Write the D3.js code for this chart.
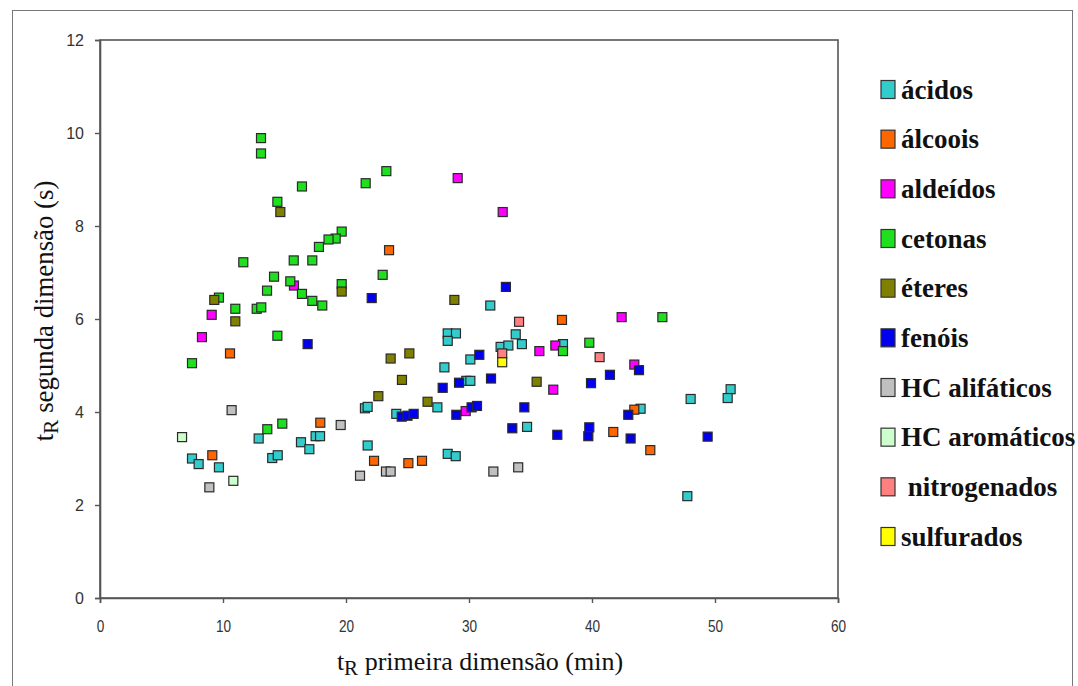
<!DOCTYPE html>
<html>
<head>
<meta charset="utf-8">
<script src="https://cdn.jsdelivr.net/npm/d3@7/dist/d3.min.js"></script>
<style>
  html, body { margin: 0; padding: 0; background: #fff; }
  svg { display: block; }
</style>
</head>
<body>
<svg id="chart" width="1078" height="686"></svg>
<script>
// Compound classes and their marker colours
const categories = ["ácidos", "álcoois", "aldeídos", "cetonas", "éteres", "fenóis",
  "HC alifáticos", "HC aromáticos", "nitrogenados", "sulfurados"];
const legendLabels = ["ácidos", "álcoois", "aldeídos", "cetonas", "éteres", "fenóis",
  "HC alifáticos", "HC aromáticos", " nitrogenados", "sulfurados"];
const colors = ["#33cccc", "#ff6600", "#ff00ff", "#1ee01e", "#808000", "#0000ee",
  "#c0c0c0", "#ccffcc", "#ff8080", "#ffff00"];

// Retention times: [first dimension (min), second dimension (s)]
const acidos = [[21.54,4.08],[21.76,4.11],[24.09,3.96],[12.9,3.43],[16.34,3.35],[17.02,3.20],
  [17.53,3.48],[17.89,3.48],[21.76,3.28],[7.48,3.0],[8.02,2.88],[9.67,2.81],[14.0,3.01],
  [14.45,3.07],[31.73,6.29],[28.27,5.69],[28.94,5.69],[28.27,5.53],[33.8,5.67],[32.57,5.40],
  [33.2,5.43],[34.3,5.46],[37.64,5.46],[30.11,5.13],[28.0,4.96],[29.78,4.67],[30.11,4.67],
  [27.43,4.10],[48.02,4.28],[34.72,3.68],[43.95,4.07],[28.27,3.10],[28.92,3.05],[47.75,2.19],
  [51.27,4.49],[51.03,4.30]];
const alcoois = [[23.5,7.48],[10.57,5.26],[17.91,3.77],[22.28,2.95],[25.07,2.90],[26.18,2.95],
  [9.13,3.07],[37.56,5.98],[41.73,3.57],[44.74,3.18],[43.44,4.05]];
const aldeidos = [[15.77,6.72],[9.08,6.09],[8.29,5.61],[29.08,9.03],[32.74,8.30],[42.41,6.04],
  [35.72,5.31],[37.02,5.43],[43.44,5.02],[36.85,4.48],[29.73,4.02]];
const cetonas = [[13.09,9.89],[13.09,9.56],[23.28,9.18],[21.6,8.92],[16.42,8.85],[14.42,8.52],
  [19.65,7.88],[19.16,7.73],[18.58,7.71],[17.8,7.55],[11.65,7.22],[15.75,7.26],[17.26,7.26],
  [22.98,6.95],[14.15,6.91],[15.47,6.81],[19.65,6.75],[13.58,6.61],[16.42,6.54],[17.26,6.39],
  [18.07,6.29],[9.67,6.46],[11.0,6.22],[12.74,6.22],[13.11,6.25],[14.42,5.64],[7.48,5.05],
  [13.6,3.63],[14.82,3.75],[45.72,6.04],[39.78,5.49],[37.64,5.31]];
const eteres = [[14.66,8.30],[19.65,6.59],[9.29,6.41],[11.0,5.95],[23.63,5.15],[25.15,5.26],
  [24.55,4.69],[22.63,4.34],[28.81,6.41],[35.5,4.65],[26.63,4.22]];
const fenois = [[22.09,6.45],[16.88,5.46],[24.53,3.90],[25.0,3.92],[25.5,3.96],[33.0,6.69],
  [43.82,4.90],[30.84,5.23],[31.79,4.72],[29.19,4.63],[27.86,4.52],[39.92,4.62],[41.46,4.80],
  [28.97,3.94],[30.21,4.10],[30.65,4.13],[34.5,4.10],[33.52,3.65],[37.18,3.51],[39.78,3.67],
  [39.7,3.48],[43.14,3.43],[42.95,3.94],[49.4,3.47]];
const hcAlifaticos = [[10.7,4.04],[19.57,3.72],[21.14,2.63],[23.25,2.72],[23.63,2.72],
  [8.89,2.38],[31.98,2.72],[34.0,2.81]];
const hcAromaticos = [[6.67,3.46],[10.84,2.52]];
const nitrogenados = [[34.07,5.94],[32.7,5.26],[40.62,5.18]];
const sulfurados = [[32.7,5.07]];

const seriesValues = [acidos, alcoois, aldeidos, cetonas, eteres, fenois,
  hcAlifaticos, hcAromaticos, nitrogenados, sulfurados];

const xTicks = [0, 10, 20, 30, 40, 50, 60];
const yTicks = [0, 2, 4, 6, 8, 10, 12];

const SERIF = '"Liberation Serif"';
const SANS = '"Liberation Sans"';

const svg = d3.select("#chart");

// Outer frame
svg.append("rect")
  .attr("x", 12.5).attr("y", 10.5).attr("width", 1060).attr("height", 690)
  .attr("fill", "none").attr("stroke", "#777").attr("stroke-width", 1);

const plot = { left: 100, right: 838, top: 40, bottom: 598 };
const x = d3.scaleLinear().domain([0, 60]).range([plot.left, plot.right]);
const y = d3.scaleLinear().domain([0, 12]).range([plot.bottom, plot.top]);

// Plot area border
svg.append("rect")
  .attr("x", plot.left).attr("y", plot.top)
  .attr("width", plot.right - plot.left).attr("height", plot.bottom - plot.top)
  .attr("fill", "#fff").attr("stroke", "#555").attr("stroke-width", 1.6);

const xAxis = svg.append("g")
  .attr("transform", `translate(0,${plot.bottom})`)
  .call(d3.axisBottom(x).tickValues(xTicks).tickSize(5).tickPadding(16).tickFormat(d3.format("d")));
const yAxis = svg.append("g")
  .attr("transform", `translate(${plot.left},0)`)
  .call(d3.axisLeft(y).tickValues(yTicks).tickSize(5).tickPadding(11).tickFormat(d3.format("d")));

[xAxis, yAxis].forEach(g => {
  g.attr("font-family", SANS).attr("font-size", 16);
  g.select(".domain").attr("stroke", "#555").attr("stroke-width", 1.6);
  g.selectAll(".tick line").attr("stroke", "#555").attr("stroke-width", 1.4);
  g.selectAll(".tick text").attr("fill", "#333");
});
// x tick digits are drawn slightly condensed
xAxis.selectAll(".tick text").attr("transform", "scale(0.85,1.05)");

// Axis titles with subscript R
const xTitle = svg.append("text")
  .attr("font-family", SERIF)
  .attr("x", 480).attr("y", 670)
  .attr("text-anchor", "middle")
  .attr("font-size", 26).attr("fill", "#111");
xTitle.append("tspan").text("t");
xTitle.append("tspan").attr("dy", 5).attr("font-size", 21).text("R");
xTitle.append("tspan").attr("dy", -5).text(" primeira dimensão (min)");

const yTitle = svg.append("text")
  .attr("font-family", SERIF)
  .attr("transform", "translate(53,311) rotate(-90)")
  .attr("text-anchor", "middle")
  .attr("font-size", 26.8).attr("fill", "#111");
yTitle.append("tspan").text("t");
yTitle.append("tspan").attr("dy", 5).attr("font-size", 21.5).text("R");
yTitle.append("tspan").attr("dy", -5).text(" segunda dimensão (s)");

// Markers, one group per class, drawn in series order
const m = 9;
const marks = svg.append("g");
seriesValues.forEach((vals, i) => {
  marks.append("g")
    .selectAll("rect")
    .data(vals)
    .join("rect")
    .attr("x", d => x(d[0]) - m / 2)
    .attr("y", d => y(d[1]) - m / 2)
    .attr("width", m).attr("height", m)
    .attr("fill", colors[i])
    .attr("stroke", "#2a2a2a")
    .attr("stroke-width", 1.2);
});

// Legend
const legend = svg.append("g");
const legendY = d3.scaleLinear().domain([0, categories.length - 1]).range([90, 537]);
categories.forEach((c, i) => {
  const cy = legendY(i);
  legend.append("rect")
    .attr("x", 881).attr("y", cy - 9.5)
    .attr("width", 14).attr("height", 18)
    .attr("fill", colors[i]).attr("stroke", "#333").attr("stroke-width", 1.2);
  legend.append("text")
    .attr("font-family", SERIF)
    .attr("x", 901).attr("y", cy + 8.5)
    .style("white-space", "pre")
    .attr("font-weight", "bold").attr("font-size", 27)
    .attr("fill", "#111")
    .text(legendLabels[i]);
});
</script>
</body>
</html>
